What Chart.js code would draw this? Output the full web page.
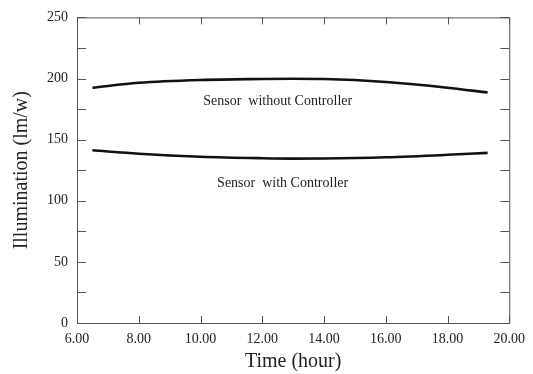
<!DOCTYPE html>
<html>
<head>
  <meta charset="UTF-8" />
  <title>Illumination vs Time</title>
  <script src="https://cdn.jsdelivr.net/npm/chart.js@4.4.0/dist/chart.umd.min.js"></script>
  <style>
    body{margin:0;background:#fff;}
    #wrap{width:533px;height:374px;}
  </style>
</head>
<body>
  <div id="wrap"><canvas id="lumChart" width="533" height="374"></canvas></div>
  <script>
    // values
    const timeHours = [6.5, 8, 10, 12, 13, 14, 16, 18, 19.3];
    const withoutController = [192.5, 196.5, 198.8, 199.6, 199.8, 199.6, 197.2, 192.5, 188.5];
    const withController = [141.3, 138.5, 136, 134.8, 134.5, 134.6, 135.6, 137.6, 139.2];
    const xTicks = [6, 8, 10, 12, 14, 16, 18, 20];
    const yTicks = [0, 25, 50, 75, 100, 125, 150, 175, 200, 225, 250];
    const curveLabels = [
      {text: 'Sensor  without Controller', x: 12.5, y: 181},
      {text: 'Sensor  with Controller', x: 12.66, y: 114}
    ];

    const serif = '"Liberation Serif", "DejaVu Serif", serif';
    const ink = '#222';

    function pts(ys){ return timeHours.map((t,i)=>({x:t,y:ys[i]})); }

    // frame, inward ticks and in-plot labels
    const framePlugin = {
      id: 'frame',
      afterDatasetsDraw(chart){
        const {ctx, chartArea:a, scales:{x, y}} = chart;
        ctx.save();
        ctx.strokeStyle = '#555';
        ctx.lineWidth = 1;
        ctx.strokeRect(a.left+0.5, a.top+0.5, a.right-a.left, a.bottom-a.top);
        ctx.beginPath();
        xTicks.forEach(v=>{
          const px = Math.round(x.getPixelForValue(v))+0.5;
          ctx.moveTo(px, a.bottom); ctx.lineTo(px, a.bottom-7);
          ctx.moveTo(px, a.top); ctx.lineTo(px, a.top+7);
        });
        yTicks.forEach(v=>{
          const py = Math.round(y.getPixelForValue(v))+0.5;
          ctx.moveTo(a.left, py); ctx.lineTo(a.left+9, py);
          ctx.moveTo(a.right, py); ctx.lineTo(a.right-9, py);
        });
        ctx.stroke();
        ctx.fillStyle = ink;
        ctx.font = '14px ' + serif;
        ctx.textAlign = 'center';
        ctx.textBaseline = 'middle';
        curveLabels.forEach(l=>{
          ctx.fillText(l.text, x.getPixelForValue(l.x), y.getPixelForValue(l.y));
        });
        ctx.restore();
      }
    };

    const lineStyle = {borderColor:'#111', borderWidth:2.6, pointRadius:0, fill:false, cubicInterpolationMode:'monotone'};

    new Chart(document.getElementById('lumChart'), {
      type: 'line',
      data: {
        datasets: [
          Object.assign({label:'Sensor without Controller', data:pts(withoutController)}, lineStyle),
          Object.assign({label:'Sensor with Controller', data:pts(withController)}, lineStyle)
        ]
      },
      options: {
        responsive: false,
        animation: false,
        layout: {padding: {top:15, right:21, left:0, bottom:0}},
        plugins: {legend:{display:false}, tooltip:{enabled:false}},
        scales: {
          x: {
            type: 'linear', min: 6, max: 20,
            afterFit(s){ s.height = 51; },
            grid: {display:false, drawTicks:false},
            border: {display:false},
            ticks: {stepSize:2, padding:8, color:ink, font:{family:serif, size:14},
                    callback:v=>v.toFixed(2), maxRotation:0, autoSkip:false},
            title: {display:true, text:'Time (hour)', color:ink,
                    font:{family:serif, size:20, lineHeight:1.2}, padding:{top:0, bottom:0}}
          },
          y: {
            min: 0, max: 250,
            afterFit(s){ s.width = 77; },
            grid: {display:false, drawTicks:false},
            border: {display:false},
            ticks: {stepSize:50, padding:9, color:ink, font:{family:serif, size:14}},
            title: {display:true, text:'Illumination (lm/w)', color:ink,
                    font:{family:serif, size:20, lineHeight:1.2}, padding:{top:10, bottom:0}}
          }
        }
      },
      plugins: [framePlugin]
    });
  </script>
</body>
</html>
